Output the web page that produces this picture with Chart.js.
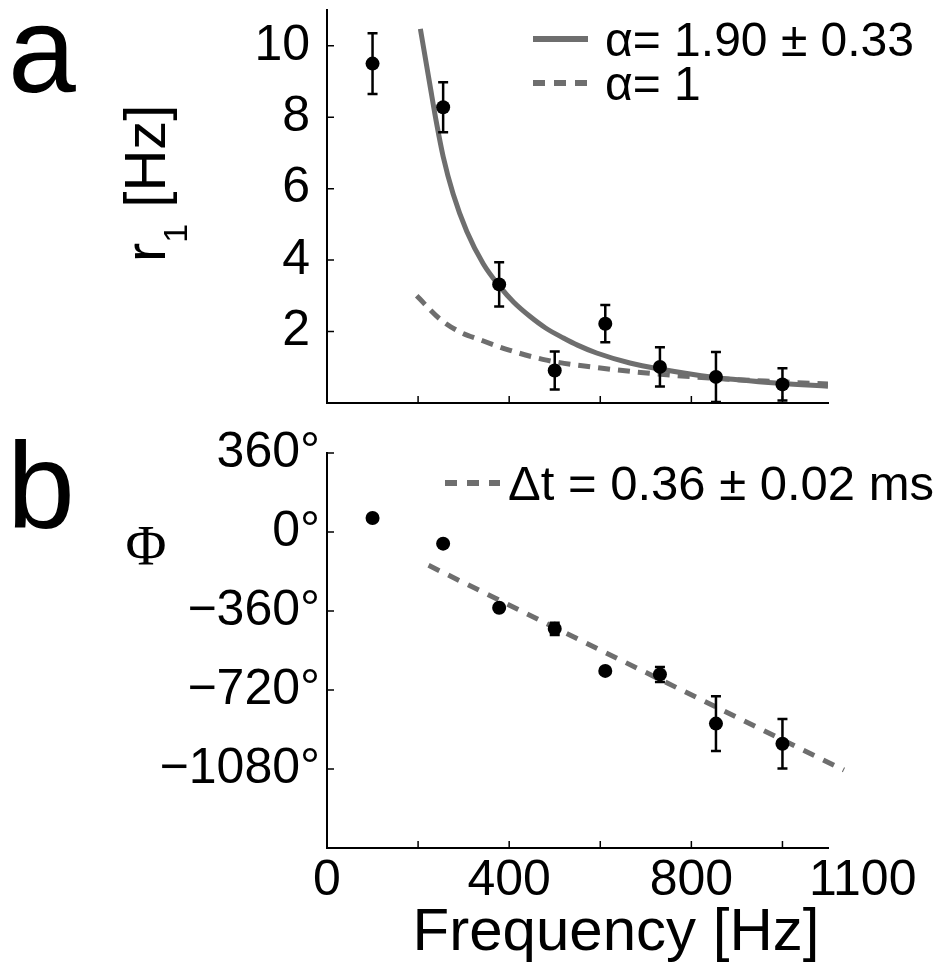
<!DOCTYPE html>
<html><head><meta charset="utf-8">
<script src="https://cdn.jsdelivr.net/npm/chart.js@4.4.1/dist/chart.umd.min.js"></script>
<style>
html,body{margin:0;padding:0;background:#fff;}
#wrap{position:relative;width:942px;height:967px;overflow:hidden;}
canvas{position:absolute;left:0;}
#rateCv{top:0;}
#phaseCv{top:413px;}
</style></head><body>
<div id="wrap">
<canvas id="rateCv" width="942" height="430"></canvas>
<canvas id="phaseCv" width="942" height="554"></canvas>
</div>
<script>
const freqs=[100,255,378,500,611,731,854,1000];
const rate=[9.5,8.28,3.32,0.91,2.22,1.01,0.73,0.52];
const rateErr=[0.85,0.70,0.62,0.53,0.52,0.55,0.70,0.45];
const phase=[64,-53,-345,-441,-633,-649,-873,-965];
const phaseErr=[0,0,0,28,0,34,125,113];
// fit curves, sampled from the figure
const fitFreqs=[205,226,241,255,277,307,343,380,410,446,480,519,550,592,665,731,848,995,1100];
const fitRate=[10.47,8.9,7.8,6.9,5.85,4.8,3.9,3.25,2.82,2.42,2.1,1.82,1.62,1.40,1.12,0.95,0.72,0.55,0.47];
const invFreqs=[197,248,290,336,400,482,600,702,850,1000,1100];
const invRate=[3.0,2.35,2.0,1.77,1.48,1.2,0.98,0.84,0.69,0.59,0.53];
const delayFreqs=[223,1135];
const delayPhase=[-152,-1085];
// axes
const xTickMarks=[200,400,600,800,1000];
const xLabels=[0,400,800,1100];
const rateTicks=[2,4,6,8,10];
const phaseTicks=[360,0,-360,-720,-1080];

const GRAY='#6e6e6e';
const SANS="'Liberation Sans', Arial, sans-serif";
Chart.defaults.font.family=SANS;
Chart.defaults.color='#000';
Chart.defaults.animation=false;

const pts=(xs,ys)=>xs.map((x,i)=>({x,y:ys[i]}));

function errBars(chart,vals,errs){
  const {ctx,scales:{x,y}}=chart;
  ctx.save();ctx.strokeStyle='#000';ctx.lineWidth=2.5;ctx.beginPath();
  freqs.forEach((f,i)=>{
    if(!errs[i]) return;
    const px=x.getPixelForValue(f),y1=y.getPixelForValue(vals[i]-errs[i]),y2=y.getPixelForValue(vals[i]+errs[i]);
    ctx.moveTo(px,y1);ctx.lineTo(px,y2);
    ctx.moveTo(px-5,y1);ctx.lineTo(px+5,y1);ctx.moveTo(px-5,y2);ctx.lineTo(px+5,y2);
  });
  ctx.stroke();ctx.restore();
}
function tickMarks(chart,yTicks){
  const {ctx,scales:{x,y},chartArea:a}=chart;
  ctx.save();ctx.strokeStyle='#000';ctx.lineWidth=1.5;ctx.beginPath();
  xTickMarks.forEach(v=>{const p=x.getPixelForValue(v);ctx.moveTo(p,a.bottom);ctx.lineTo(p,a.bottom-7);});
  yTicks.forEach(v=>{const p=y.getPixelForValue(v);ctx.moveTo(a.left,p);ctx.lineTo(a.left+7,p);});
  ctx.stroke();ctx.restore();
}
function legendLine(ctx,x1,x2,y,dash){
  ctx.save();ctx.strokeStyle=GRAY;ctx.lineWidth=6;ctx.setLineDash(dash);
  ctx.beginPath();ctx.moveTo(x1,y);ctx.lineTo(x2,y);ctx.stroke();ctx.restore();
}

function xScale(showLabels,h){
  return {type:'linear',min:0,max:1100,
    grid:{display:false,drawTicks:false},border:{display:true,color:'#000',width:2},
    afterBuildTicks:s=>{s.ticks=xLabels.map(v=>({value:v}));},
    ticks:{display:showLabels,autoSkip:false,maxRotation:0,padding:3,font:{size:50},
      callback:v=>v===1100?'     1100':String(v)},
    afterFit:s=>{s.height=h;s.paddingLeft=0;s.paddingRight=0;}};
}
function yScale(min,max,ticks,pad,cb){
  return {type:'linear',min,max,
    grid:{display:false,drawTicks:false},border:{display:true,color:'#000',width:2},
    afterBuildTicks:s=>{s.ticks=ticks.map(v=>({value:v}));},
    ticks:{autoSkip:false,padding:pad,font:{size:50},callback:cb},
    afterFit:s=>{s.width=327;s.paddingTop=0;s.paddingBottom=0;}};
}

const rateDeco={id:'rateDeco',afterDraw(chart){
  const ctx=chart.ctx;
  tickMarks(chart,rateTicks);errBars(chart,rate,rateErr);
  ctx.save();ctx.fillStyle='#000';ctx.textBaseline='alphabetic';
  ctx.font=`122px ${SANS}`;ctx.fillText('a',8,92);
  ctx.translate(165,262);ctx.rotate(-Math.PI/2);
  ctx.font=`58px ${SANS}`;ctx.fillText('r',0,0);let w=ctx.measureText('r').width;
  ctx.font=`34px ${SANS}`;ctx.fillText('1',w,22);w+=ctx.measureText('1').width;
  ctx.font=`58px ${SANS}`;ctx.fillText(' [Hz]',w,0);
  ctx.restore();
  legendLine(ctx,533,588,39,[]);legendLine(ctx,533,588,83,[12,9]);
  ctx.save();ctx.fillStyle='#000';ctx.font=`48px ${SANS}`;
  ctx.fillText('α= 1.90 ± 0.33',605,56);ctx.fillText('α= 1',605,100);ctx.restore();
}};

const phaseDeco={id:'phaseDeco',afterDraw(chart){
  const ctx=chart.ctx;
  tickMarks(chart,phaseTicks);errBars(chart,phase,phaseErr);
  ctx.save();ctx.fillStyle='#000';ctx.textBaseline='alphabetic';
  ctx.font=`122px ${SANS}`;ctx.fillText('b',7,115);
  ctx.font="56px 'Liberation Serif', serif";ctx.textAlign='center';ctx.fillText('Φ',146,152);
  ctx.font=`60px ${SANS}`;ctx.fillText('Frequency [Hz]',616,537);
  ctx.textAlign='left';ctx.font=`49px ${SANS}`;ctx.fillText('Δt = 0.36 ± 0.02 ms',508,87);
  ctx.restore();
  legendLine(ctx,445,500,70,[12,10]);
}};

new Chart(document.getElementById('rateCv'),{
  type:'line',
  data:{datasets:[
    {label:'r1',data:pts(freqs,rate),showLine:false,pointRadius:7,pointBackgroundColor:'#000',pointBorderWidth:0},
    {label:'α= 1.90 ± 0.33',data:pts(fitFreqs,fitRate),borderColor:GRAY,borderWidth:5,pointRadius:0,cubicInterpolationMode:'monotone'},
    {label:'α= 1',data:pts(invFreqs,invRate),borderColor:GRAY,borderWidth:5,borderDash:[12,8],pointRadius:0,cubicInterpolationMode:'monotone'}
  ]},
  options:{responsive:false,events:[],
    layout:{padding:{top:10,right:114,left:0,bottom:0}},
    plugins:{legend:{display:false},tooltip:{enabled:false}},
    scales:{x:xScale(false,27),y:yScale(0,11,rateTicks,17,v=>String(v))}},
  plugins:[rateDeco]
});

new Chart(document.getElementById('phaseCv'),{
  type:'line',
  data:{datasets:[
    {label:'Φ',data:pts(freqs,phase),showLine:false,pointRadius:7,pointBackgroundColor:'#000',pointBorderWidth:0},
    {label:'Δt = 0.36 ± 0.02 ms',data:pts(delayFreqs,delayPhase),borderColor:GRAY,borderWidth:5,borderDash:[12,10],pointRadius:0,clip:false}
  ]},
  options:{responsive:false,events:[],
    layout:{padding:{top:40,right:114,left:0,bottom:0}},
    plugins:{legend:{display:false},tooltip:{enabled:false}},
    scales:{x:xScale(true,119),
      y:yScale(-1440,360,phaseTicks,7,v=>(v<0?'−'+(-v):String(v))+'°')}},
  plugins:[phaseDeco]
});
</script>
</body></html>
